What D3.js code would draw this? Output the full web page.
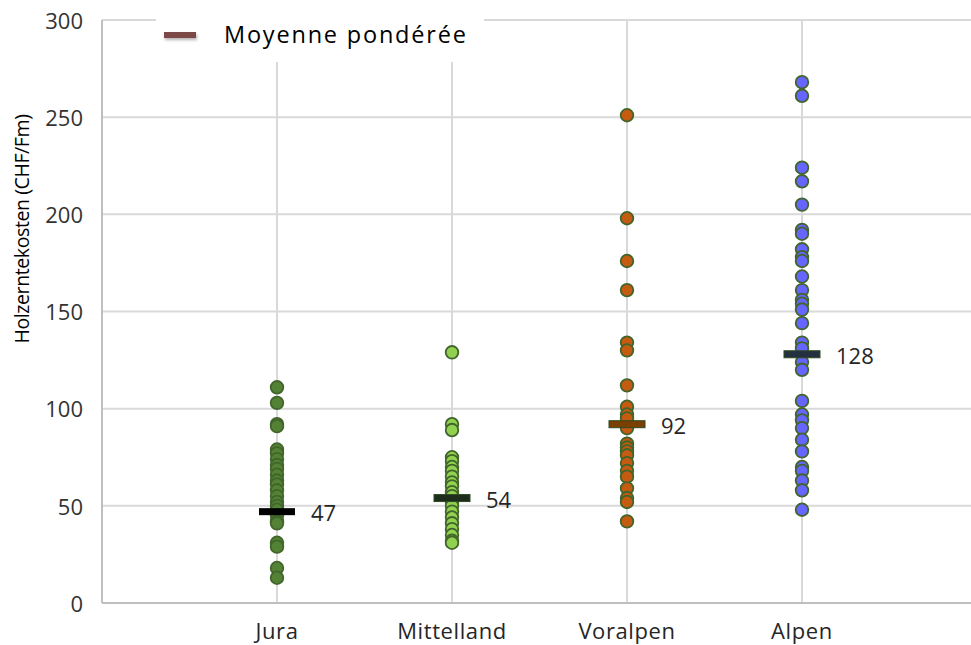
<!DOCTYPE html>
<html><head><meta charset="utf-8">
<script src="https://cdn.jsdelivr.net/npm/d3@7"></script>
<style>body{margin:0;background:#fff}svg{display:block}text{font-family:"Open Sans",sans-serif}</style>
</head><body>
<svg id="c" width="971" height="645"></svg>
<script>
const categories = ["Jura","Mittelland","Voralpen","Alpen"];
const jura = [111,103,92,91,79,77,74,71,69,66,63,61,58,55,52,50,48,45,42,41,31,29,18,13];
const mittelland = [129,92,89,75,73,70,68,65,62,60,57,55,52,50,47,44,41,38,35,32,31];
const voralpen = [251,198,176,161,134,130,112,101,97,95,90,82,80,78,76,72,68,65,59,54,52,42];
const alpen = [268,261,224,217,205,192,190,182,178,176,168,161,156,154,151,144,134,131,124,120,104,97,94,90,84,78,70,68,63,58,48];
const means = [47,54,92,128];
const yTicks = [0,50,100,150,200,250,300];
const legendLabel = "Moyenne pondérée";
const yTitle = "Holzerntekosten (CHF/Fm)";

const series = [jura, mittelland, voralpen, alpen];
const fills = ["#548235","#92d050","#c55a11","#6666ff"];
const meanFills = ["#000000","#1f2e1c","#7b3f00","#243040"];

const svg = d3.select("#c");
const x = d3.scaleLinear().domain([0,5]).range([102,977]);
const y = d3.scaleLinear().domain([0,300]).range([603,20]);

svg.append("g").selectAll("line").data(yTicks.slice(1)).join("line")
  .attr("x1",102).attr("x2",971).attr("y1",d=>y(d)).attr("y2",d=>y(d))
  .attr("stroke","#d9d9d9").attr("stroke-width",2);
svg.append("g").selectAll("line").data(categories).join("line")
  .attr("x1",(d,i)=>x(i+1)).attr("x2",(d,i)=>x(i+1)).attr("y1",y(300)).attr("y2",y(0))
  .attr("stroke","#d9d9d9").attr("stroke-width",2);
svg.append("line").attr("x1",102).attr("x2",102).attr("y1",y(300)).attr("y2",y(0)).attr("stroke","#bfbfbf").attr("stroke-width",2);
svg.append("line").attr("x1",102).attr("x2",971).attr("y1",y(0)).attr("y2",y(0)).attr("stroke","#bfbfbf").attr("stroke-width",2);

svg.append("g").selectAll("text").data(yTicks).join("text")
  .attr("x",83).attr("y",d=>y(d)+1).attr("dy","0.35em").attr("text-anchor","end")
  .attr("font-size",22).attr("fill","#333").text(d=>d);
svg.append("g").selectAll("text").data(categories).join("text")
  .attr("x",(d,i)=>x(i+1)).attr("y",639).attr("text-anchor","middle")
  .attr("font-size",22).attr("letter-spacing",0.6).attr("fill","#262626").text(d=>d);
svg.append("text").attr("transform",`translate(22,229) rotate(-90)`)
  .attr("text-anchor","middle").attr("dy","0.35em").attr("font-size",19.5).attr("letter-spacing",-0.4).attr("fill","#000").text(yTitle);

series.forEach((vals,i)=>{
  svg.append("g").selectAll("circle").data(vals).join("circle")
    .attr("cx",x(i+1)).attr("cy",d=>y(d)).attr("r",6.3)
    .attr("fill",fills[i]).attr("stroke","#41652b").attr("stroke-width",1.8);
});

svg.append("g").selectAll("rect").data(means).join("rect")
  .attr("x",(d,i)=>x(i+1)-18).attr("y",d=>y(d)-3.5).attr("width",36).attr("height",7)
  .attr("fill",(d,i)=>meanFills[i]).attr("stroke",(d,i)=>i===0?"none":"#2f4a22").attr("stroke-width",1);
svg.append("g").selectAll("text").data(means).join("text")
  .attr("x",(d,i)=>x(i+1)+34).attr("y",d=>y(d)+2).attr("dy","0.35em")
  .attr("font-size",22).attr("fill","#262626").text(d=>d);

svg.append("rect").attr("x",156).attr("y",8).attr("width",328).attr("height",54).attr("fill","#fff");
const defs = svg.append("defs");
const f = defs.append("filter").attr("id","sh").attr("x","-50%").attr("y","-200%").attr("width","200%").attr("height","500%");
f.append("feDropShadow").attr("dx",1).attr("dy",2).attr("stdDeviation",1.5).attr("flood-color","#000").attr("flood-opacity",0.3);
svg.append("rect").attr("x",164).attr("y",32).attr("width",32).attr("height",6)
  .attr("fill","#7b4a47").attr("filter","url(#sh)");
svg.append("text").attr("x",224).attr("y",43).attr("font-size",23.5).attr("letter-spacing",1.8).attr("fill","#000").text(legendLabel);
</script>
</body></html>
